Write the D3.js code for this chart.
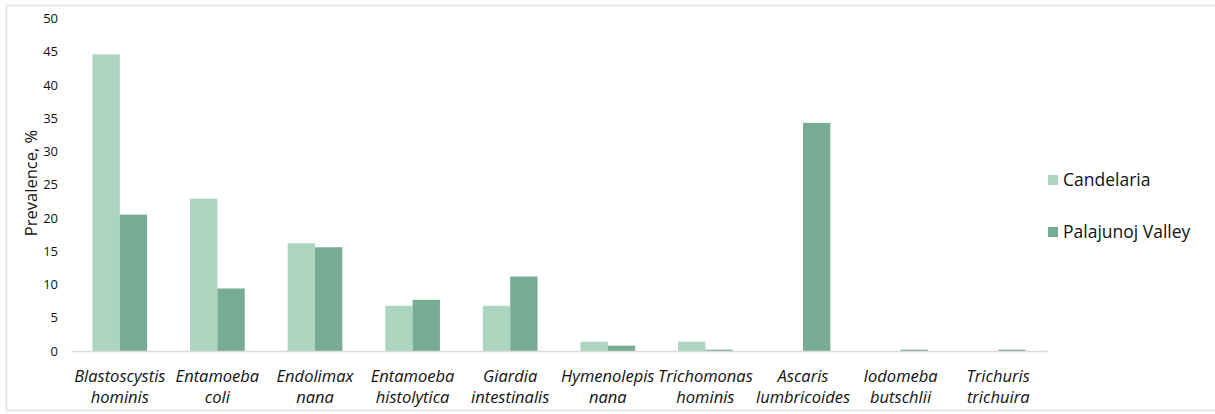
<!DOCTYPE html>
<html>
<head>
<meta charset="utf-8">
<script src="https://cdn.jsdelivr.net/npm/d3@7/dist/d3.min.js"></script>
<style>
  html, body { margin: 0; padding: 0; background: #fff; }
  svg { display: block; }
  text { font-family: "Open Sans", "Noto Sans", sans-serif; fill: #111; }
</style>
</head>
<body>
<svg id="chart" width="1215" height="414"></svg>
<script>
// Parasite species (two-line italic labels)
const species = [
  ["Blastoscystis", "hominis"],
  ["Entamoeba", "coli"],
  ["Endolimax", "nana"],
  ["Entamoeba", "histolytica"],
  ["Giardia", "intestinalis"],
  ["Hymenolepis", "nana"],
  ["Trichomonas", "hominis"],
  ["Ascaris", "lumbricoides"],
  ["Iodomeba", "butschlii"],
  ["Trichuris", "trichuira"]
];
const seriesNames = ["Candelaria", "Palajunoj Valley"];
const candelaria = [44.6, 22.9, 16.2, 6.8, 6.8, 1.4, 1.4, 0, 0, 0];
const palajunoj  = [20.5, 9.4, 15.6, 7.7, 11.2, 0.8, 0.2, 34.3, 0.2, 0.2];
const yTicks = [0, 5, 10, 15, 20, 25, 30, 35, 40, 45, 50];
const colors = ["#acd5c0", "#78ab94"];

const svg = d3.select("#chart");

// outer frame
svg.append("rect")
  .attr("x", 6.5).attr("y", 5.5)
  .attr("width", 1240).attr("height", 405)
  .attr("fill", "none").attr("stroke", "#e2e2e2").attr("stroke-width", 1.5);

const margin = { left: 71, right: 1047, top: 18.5, bottom: 351 };

const keys = species.map(d => d.join(" "));
const x = d3.scaleBand().domain(keys).range([margin.left, margin.right])
  .paddingInner(0.44).paddingOuter(0.22);
const xs = d3.scaleBand().domain(seriesNames).range([0, x.bandwidth()]);
const y = d3.scaleLinear().domain([0, 50]).range([margin.bottom, margin.top]);

// y axis tick labels (no axis line)
const yAxis = d3.axisLeft(y).tickValues(yTicks).tickSize(0).tickPadding(0);
const gy = svg.append("g").attr("transform", `translate(58,0)`).call(yAxis);
gy.select(".domain").remove();
gy.selectAll("text")
  .style("font-family", "'Open Sans', 'Noto Sans', sans-serif")
  .style("font-size", "13px").attr("fill", "#222");

// bars
const rows = species.map((s, i) => ({ key: keys[i], vals: [candelaria[i], palajunoj[i]] }));
const groups = svg.append("g").selectAll("g").data(rows).join("g")
  .attr("transform", d => `translate(${x(d.key)},0)`);
groups.selectAll("rect")
  .data(d => d.vals.map((v, j) => ({ name: seriesNames[j], v, j })))
  .join("rect")
  .attr("x", d => xs(d.name))
  .attr("width", xs.bandwidth())
  .attr("y", d => y(d.v))
  .attr("height", d => y(0) - y(d.v))
  .attr("fill", d => colors[d.j]);

// baseline
const xAxis = d3.axisBottom(x).tickSize(0).tickFormat("");
const gx = svg.append("g").attr("transform", `translate(0,${y(0)})`).call(xAxis);
gx.select(".domain").attr("stroke", "#dcdcdc").attr("stroke-width", 1.5);

// category labels
species.forEach((s, i) => {
  const cx = x(keys[i]) + x.bandwidth() / 2;
  const t = svg.append("text")
    .attr("text-anchor", "middle")
    .style("font-style", "italic")
    .style("font-size", "16.5px");
  t.append("tspan").attr("x", cx).attr("y", 382).text(s[0]);
  t.append("tspan").attr("x", cx).attr("y", 403).text(s[1]);
});

// y axis title
svg.append("text")
  .attr("transform", `translate(37,183) rotate(-90)`)
  .attr("text-anchor", "middle")
  .style("font-size", "16.5px")
  .text("Prevalence, %");

// legend
const legend = svg.append("g").selectAll("g").data(seriesNames).join("g")
  .attr("transform", (d, i) => `translate(1048,${175 + i * 52})`);
legend.append("rect").attr("width", 10).attr("height", 10)
  .attr("fill", (d, i) => colors[i]);
legend.append("text").attr("x", 15).attr("y", 11)
  .style("font-size", "17.5px")
  .text(d => d);
</script>
</body>
</html>
